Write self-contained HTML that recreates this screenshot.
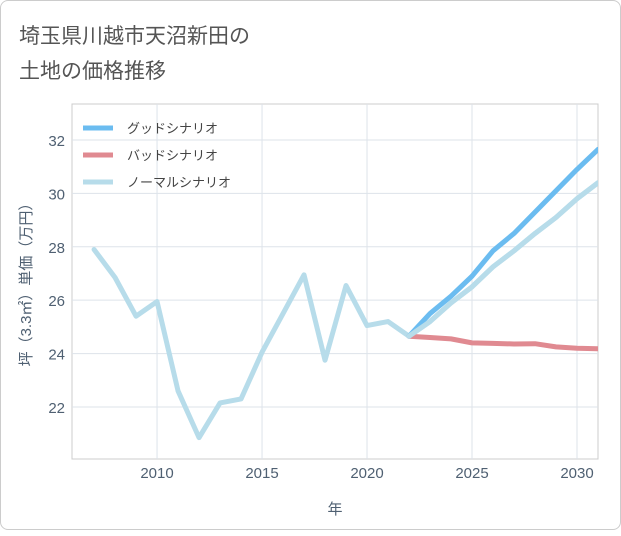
<!DOCTYPE html>
<html><head><meta charset="utf-8"><style>
body{margin:0;background:#fff;font-family:"Liberation Sans","Noto Sans CJK JP",sans-serif;}
#card{position:absolute;left:0;top:0;width:619px;height:528px;border:1px solid #ccc;border-radius:8px;background:#fff;}
</style></head><body>
<div id="card">
<svg id="chart" width="621" height="530">
<defs><clipPath id="clip"><rect x="71" y="103" width="526" height="355"/></clipPath></defs>
</svg>
</div>
<script>
const years=[2007,2008,2009,2010,2011,2012,2013,2014,2015,2016,2017,2018,2019,2020,2021,2022,2023,2024,2025,2026,2027,2028,2029,2030,2031];
const normal=[27.9,26.85,25.4,25.95,22.6,20.85,22.15,22.3,24.05,25.5,26.95,23.75,26.55,25.05,25.2,24.65,25.2,25.9,26.5,27.25,27.85,28.5,29.1,29.8,30.4];
const goodYears=[2022,2023,2024,2025,2026,2027,2028,2029,2030,2031];
const good=[24.65,25.5,26.15,26.9,27.85,28.5,29.3,30.1,30.9,31.65];
const bad=[24.65,24.6,24.55,24.4,24.38,24.36,24.37,24.25,24.2,24.18];
const xTicks=[2010,2015,2020,2025,2030];
const yTicks=[22,24,26,28,30,32];
const L=71,R=597,T=103,B=458,x0=2005.95,x1=2031,y0=20.05,y1=33.35;
const X=v=>L+(v-x0)/(x1-x0)*(R-L);
const Y=v=>B-(v-y0)/(y1-y0)*(B-T);
const svg=document.getElementById('chart');const NS='http://www.w3.org/2000/svg';
function add(tag,attrs,name,text){const e=document.createElementNS(NS,tag);for(const k in attrs)e.setAttribute(k,attrs[k]);


if(text!==undefined)e.textContent=text;svg.appendChild(e);return e;}
const TC='#4f6072';
add('text',{x:18,y:42,'font-size':21,fill:'#555'},'chart-title-line1','埼玉県川越市天沼新田の');
add('text',{x:18,y:77,'font-size':21,fill:'#555'},'chart-title-line2','土地の価格推移');
add('rect',{x:L,y:T,width:R-L,height:B-T,fill:'#fff',stroke:'#ccc'},'plot-area');
xTicks.forEach(t=>{add('line',{x1:X(t),x2:X(t),y1:T,y2:B,stroke:'#dde3ea'},'x-grid-'+t);
add('text',{x:X(t),y:477,'font-size':15,fill:TC,'text-anchor':'middle'},'x-tick-'+t,t);});
yTicks.forEach(t=>{add('line',{x1:L,x2:R,y1:Y(t),y2:Y(t),stroke:'#dde3ea'},'y-grid-'+t);
add('text',{x:64,y:Y(t)+6,'font-size':15,fill:TC,'text-anchor':'end'},'y-tick-'+t,t);});
add('text',{x:334,y:513,'font-size':15,fill:TC,'text-anchor':'middle'},'x-axis-title','年');
add('text',{x:0,y:0,'font-size':15,fill:TC,'text-anchor':'middle',transform:'translate(30,280) rotate(-90)'},'y-axis-title','坪（3.3㎡）単価（万円）');
function line(xs,vs,color,name){add('polyline',{points:xs.map((y,i)=>X(y)+','+Y(vs[i])).join(' '),fill:'none',stroke:color,'stroke-width':5,'stroke-linejoin':'round','stroke-linecap':'round','clip-path':'url(#clip)'},name);}
line(years,normal,'#b7dcea','normal-line');
line(goodYears,bad,'#e08a91','bad-line');
line(goodYears,good,'#6bbcf0','good-line');
line(years.slice(15),normal.slice(15),'#b7dcea','normal-forecast-line');
const leg=[['グッドシナリオ','#6bbcf0'],['バッドシナリオ','#e08a91'],['ノーマルシナリオ','#b7dcea']];
leg.forEach((l,i)=>{const y=127+i*27;add('line',{x1:82,x2:112,y1:y,y2:y,stroke:l[1],'stroke-width':5},'legend-swatch-'+i);
add('text',{x:126,y:y+5,'font-size':13,fill:'#444'},'legend-label-'+i,l[0]);});
</script></body></html>
